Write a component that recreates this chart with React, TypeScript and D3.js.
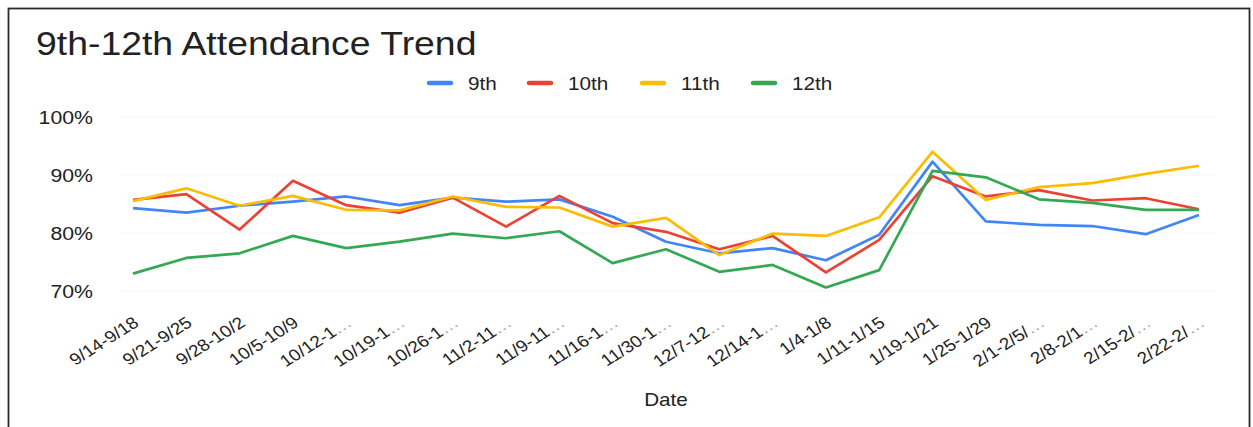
import React, { useEffect, useRef } from 'react';
import * as d3 from 'd3';

const dates = [
  '9/14-9/18', '9/21-9/25', '9/28-10/2', '10/5-10/9', '10/12-1…', '10/19-1…',
  '10/26-1…', '11/2-11…', '11/9-11…', '11/16-1…', '11/30-1…', '12/7-12…',
  '12/14-1…', '1/4-1/8', '1/11-1/15', '1/19-1/21', '1/25-1/29', '2/1-2/5/…',
  '2/8-2/1…', '2/15-2/…', '2/22-2/…',
];

const grade9 = [84.3, 83.5, 84.7, 85.4, 86.3, 84.8, 86.1, 85.4, 85.8, 82.8, 78.5, 76.5, 77.4, 75.3, 79.7, 92.3, 82.0, 81.4, 81.2, 79.8, 83.1];
const grade10 = [85.7, 86.7, 80.6, 89.0, 84.8, 83.5, 86.1, 81.1, 86.4, 81.7, 80.2, 77.2, 79.5, 73.2, 78.8, 89.8, 86.3, 87.4, 85.6, 86.0, 84.1];
const grade11 = [85.5, 87.7, 84.7, 86.4, 84.0, 83.9, 86.3, 84.5, 84.4, 81.1, 82.6, 76.2, 79.9, 79.5, 82.7, 94.0, 85.7, 87.9, 88.6, 90.2, 91.6];
const grade12 = [73.0, 75.7, 76.5, 79.5, 77.4, 78.5, 79.9, 79.1, 80.3, 74.8, 77.2, 73.3, 74.5, 70.6, 73.6, 90.7, 89.6, 85.8, 85.2, 84.0, 84.0];

const seriesNames = ['9th', '10th', '11th', '12th'];
const seriesColors = ['#4285F4', '#EA4335', '#FBBC04', '#34A853'];
const yTicks = [70, 80, 90, 100];

const W = 1253;
const H = 427;
const FONT = '"Liberation Sans", Arial, sans-serif';
const STRETCH = 1.15; // the scanned chart is a bit wider than tall

const App = () => {
  const ref = useRef<SVGSVGElement>(null);

  useEffect(() => {
    const svg = d3.select(ref.current);
    svg.selectAll('*').remove();

    const margin = { top: 117, right: 54, bottom: 136, left: 133 };

    // stretched text helper
    const label = (
      parent: d3.Selection<any, any, any, any>,
      x: number, y: number, txt: string, size: number,
      anchor = 'start', rotate = 0,
    ) => {
      const t = parent.append('g')
        .attr('transform', `translate(${x},${y}) scale(${STRETCH},1)`)
        .append('text')
        .attr('transform', rotate ? `rotate(${rotate})` : null)
        .attr('text-anchor', anchor)
        .attr('font-family', FONT)
        .attr('font-size', size)
        .attr('fill', '#222');
      if (txt.endsWith('…')) {
        t.append('tspan').text(txt.slice(0, -1));
        t.append('tspan').attr('fill', '#aaa').text('…');
      } else {
        t.text(txt);
      }
      return t;
    };

    // frame
    svg.append('rect')
      .attr('x', 8.5).attr('y', 8.5)
      .attr('width', W - 12).attr('height', H + 10)
      .attr('fill', '#fff')
      .attr('stroke', '#2a2a2a')
      .attr('stroke-width', 1.8);

    label(svg, 36, 55, '9th-12th Attendance Trend', 32.5);

    const x = d3.scalePoint<string>()
      .domain(dates)
      .range([margin.left, W - margin.right]);

    const y = d3.scaleLinear()
      .domain([70, 100])
      .range([H - margin.bottom, margin.top]);

    // gridlines (very faint)
    svg.append('g')
      .selectAll('line')
      .data(yTicks)
      .join('line')
      .attr('x1', 120).attr('x2', W - 38)
      .attr('y1', d => y(d)).attr('y2', d => y(d))
      .attr('stroke', '#f5f5f5');

    // y axis labels
    const yg = svg.append('g');
    yTicks.forEach(t => label(yg, 93, y(t) + 6.5, `${t}%`, 18.5, 'end'));

    // x axis labels
    const xg = svg.append('g');
    dates.forEach(d => label(xg, (x(d) ?? 0) + 7, 325, d, 16.5, 'end', -36));

    label(svg, (margin.left + W - margin.right) / 2, 406, 'Date', 18, 'middle');

    const all = [grade9, grade10, grade11, grade12];
    const line = d3.line<number>()
      .x((_, i) => x(dates[i]) ?? 0)
      .y(d => y(d));

    svg.append('g')
      .selectAll('path')
      .data(all)
      .join('path')
      .attr('d', d => line(d))
      .attr('fill', 'none')
      .attr('stroke', (_, i) => seriesColors[i])
      .attr('stroke-width', 2.7)
      .attr('stroke-linejoin', 'round');

    // legend
    const legendX = [428, 528, 641, 752];
    seriesNames.forEach((name, i) => {
      const g = svg.append('g').attr('transform', `translate(${legendX[i]},83)`);
      g.append('line')
        .attr('x1', 1).attr('x2', 23)
        .attr('stroke', seriesColors[i])
        .attr('stroke-width', 4.5)
        .attr('stroke-linecap', 'round');
      label(g, 40, 6.5, name, 18);
    });
  }, []);

  return (
    <svg ref={ref} width={W} height={H} style={{ position: 'absolute', left: 0, top: 0 }} />
  );
};

export default App;
